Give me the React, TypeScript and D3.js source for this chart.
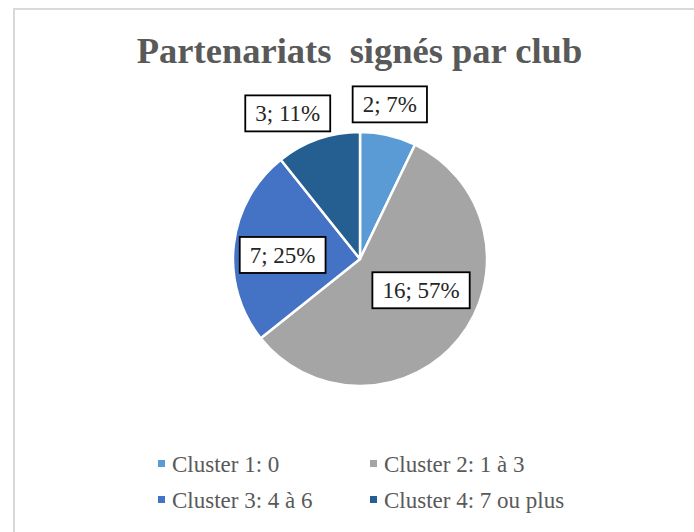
import React, { useEffect, useRef } from "react";
import * as d3 from "d3";

const categories = ["Cluster 1: 0", "Cluster 2: 1 à 3", "Cluster 3: 4 à 6", "Cluster 4: 7 ou plus"];
const values = [2, 16, 7, 3];
const percents = ["7%", "57%", "25%", "11%"];
const colors = ["#5B9BD5", "#A5A5A5", "#4472C4", "#255E91"];
const title = "Partenariats  signés par club";

// label placement: radial factor and angular offset (radians) relative to slice mid-angle
const labelRadius = [1.24, 0.54, 0.61, 1.28];
const labelAngleShift = [-0.034, -0.2, -0.06, -0.124];

const W = 694;
const H = 532;
const FONT = "'Liberation Serif', 'Times New Roman', serif";

export default function App() {
  const ref = useRef<SVGSVGElement | null>(null);

  useEffect(() => {
    const svg = d3.select(ref.current);
    svg.selectAll("*").remove();

    // chart area border
    svg.append("rect").attr("x", 0).attr("y", 0).attr("width", W).attr("height", H).attr("fill", "#ffffff");
    svg.append("path")
      .attr("d", `M14,${H} L14,9 L${W},9`)
      .attr("fill", "none")
      .attr("stroke", "#d9d9d9")
      .attr("stroke-width", 2);

    svg.append("text")
      .attr("x", 359.5)
      .attr("y", 63)
      .attr("text-anchor", "middle")
      .attr("font-family", FONT)
      .attr("font-weight", "bold")
      .attr("font-size", 36.5)
      .attr("fill", "#595959")
      .style("white-space", "pre")
      .text(title);

    const cx = 360, cy = 259, r = 127;
    const g = svg.append("g").attr("transform", `translate(${cx},${cy})`);
    const pie = d3.pie<number>().sort(null).value((d) => d);
    const arcs = pie(values);
    const arc = d3.arc<d3.PieArcDatum<number>>().innerRadius(0).outerRadius(r);

    g.selectAll("path.slice")
      .data(arcs)
      .enter()
      .append("path")
      .attr("class", "slice")
      .attr("d", arc as any)
      .attr("fill", (_, i) => colors[i])
      .attr("stroke", "#ffffff")
      .attr("stroke-width", 2.5)
      .attr("stroke-linejoin", "round");

    arcs.forEach((a, i) => {
      const mid = (a.startAngle + a.endAngle) / 2 + labelAngleShift[i];
      const rr = r * labelRadius[i];
      const x = Math.sin(mid) * rr;
      const y = -Math.cos(mid) * rr;
      const lg = g.append("g").attr("transform", `translate(${x},${y})`);
      const rect = lg.append("rect").attr("fill", "#ffffff").attr("stroke", "#000000").attr("stroke-width", 1.8);
      const t = lg.append("text")
        .attr("text-anchor", "middle")
        .attr("dy", "0.35em")
        .attr("font-family", FONT)
        .attr("font-size", 23)
        .attr("fill", "#262626")
        .text(`${values[i]}; ${percents[i]}`);
      const w = (t.node() as SVGTextElement).getComputedTextLength();
      const bw = w + 20, bh = 36;
      rect.attr("x", -bw / 2).attr("y", -bh / 2).attr("width", bw).attr("height", bh);
    });

    const colX = [158, 370];
    const rowY = [472, 508];
    categories.forEach((c, i) => {
      const col = i % 2, row = Math.floor(i / 2);
      const lx = colX[col], ly = rowY[row];
      svg.append("rect")
        .attr("x", lx)
        .attr("y", ly - 12)
        .attr("width", 7)
        .attr("height", 7)
        .attr("fill", colors[i]);
      svg.append("text")
        .attr("x", lx + 14)
        .attr("y", ly)
        .attr("font-family", FONT)
        .attr("font-size", 23)
        .attr("fill", "#595959")
        .text(c);
    });
  }, []);

  return (
    <svg
      ref={ref}
      width={W}
      height={H}
      style={{ position: "absolute", left: 0, top: 0, display: "block" }}
    />
  );
}
